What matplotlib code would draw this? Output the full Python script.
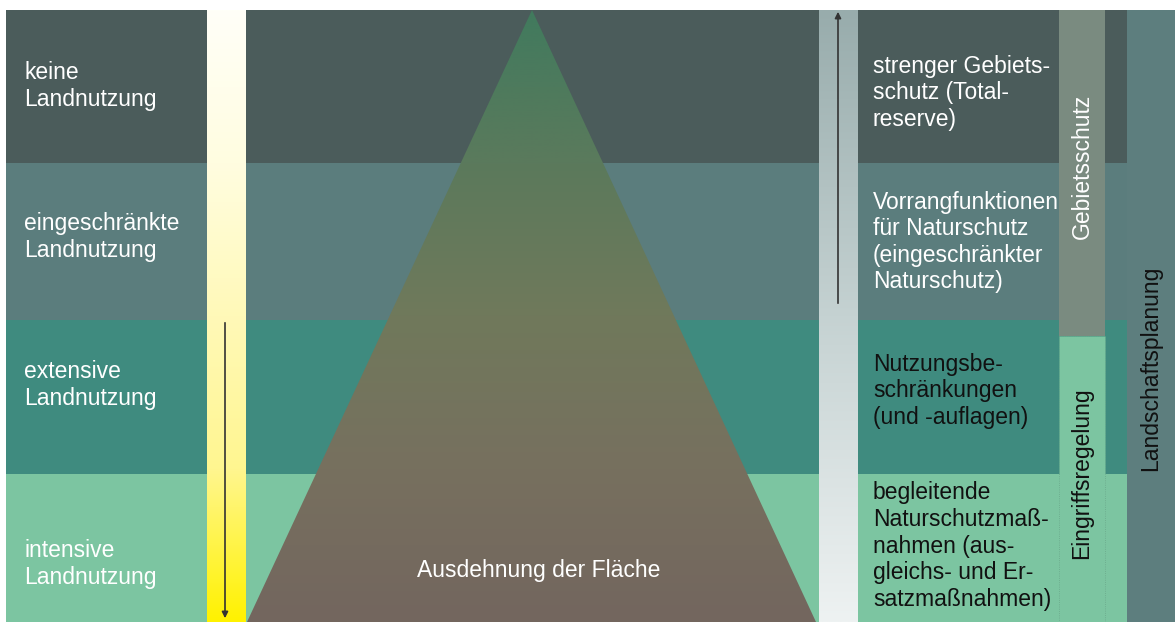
import numpy as np
import matplotlib.pyplot as plt
from matplotlib.patches import Rectangle, Polygon
from matplotlib.colors import LinearSegmentedColormap

plt.rcParams['font.family'] = ['Liberation Sans', 'DejaVu Sans']

# Stufen der Landnutzung (oben -> unten)
nutzung = ["keine\nLandnutzung", "eingeschränkte\nLandnutzung",
           "extensive\nLandnutzung", "intensive\nLandnutzung"]
schutz = ["strenger Gebiets-\nschutz (Total-\nreserve)",
          "Vorrangfunktionen\nfür Naturschutz\n(eingeschränkter\nNaturschutz)",
          "Nutzungsbe-\nschränkungen\n(und -auflagen)",
          "begleitende\nNaturschutzmaß-\nnahmen (aus-\ngleichs- und Er-\nsatzmaßnahmen)"]
band_farben = ["#4b5c5b", "#5b7d7d", "#3f8b7f", "#7cc5a1"]
text_farben = ["white", "white", "#111111", "#111111"]
instrumente = ["Gebietsschutz", "Eingriffsregelung"]
planung = "Landschaftsplanung"
flaeche = "Ausdehnung der Fläche"

W, H = 1175, 622
top = 10
grenzen = [10, 163, 320, 474, 622]
y_links = [86, 237, 385, 564]
y_rechts = [93, 242, 391, 546]
fs = 16.5

fig = plt.figure(figsize=(W / 100, H / 100), dpi=100)
ax = fig.add_axes([0, 0, 1, 1])
ax.set_xlim(0, W)
ax.set_ylim(H, 0)
ax.axis('off')

# Hintergrundbänder
for i, c in enumerate(band_farben):
    ax.add_patch(Rectangle((6, grenzen[i]), 1127 - 6, grenzen[i + 1] - grenzen[i],
                           facecolor=c, edgecolor='none', zorder=1))

# gelber Balken links (Verlauf weiß -> gelb)
gelb = LinearSegmentedColormap.from_list('gelb', ["#fffff8", "#fffde0", "#fff9b8", "#fff690", "#fff200"])
grad = np.linspace(0, 1, 256).reshape(-1, 1)
ax.imshow(grad, cmap=gelb, extent=(207, 246, H, top), aspect='auto', zorder=2)
ax.annotate('', xy=(225, 621), xytext=(225, 320),
            arrowprops=dict(arrowstyle='-|>', color='#333333', lw=1.2, mutation_scale=9), zorder=5)

# heller Balken rechts (Verlauf grau -> weiß)
grau = LinearSegmentedColormap.from_list('grau', ["#98acac", "#c5d2d2", "#eef2f2"])
ax.imshow(grad, cmap=grau, extent=(819, 858, H, top), aspect='auto', zorder=2)
ax.annotate('', xy=(838, 9), xytext=(838, 306),
            arrowprops=dict(arrowstyle='-|>', color='#333333', lw=1.2, mutation_scale=9), zorder=5)

# Pyramide mit Farbverlauf
tri = Polygon([(532, top), (247, H), (816, H)], closed=True, facecolor='none', edgecolor='none')
ax.add_patch(tri)
pyr = LinearSegmentedColormap.from_list('pyr', ["#417a5e", "#5b7a5c", "#70795b", "#77705f", "#73665e"])
im = ax.imshow(grad, cmap=pyr, extent=(247, 816, H, top), aspect='auto', zorder=3)
im.set_clip_path(tri)
ax.text(539, 570, flaeche, color='white', fontsize=fs, ha='center', va='center', zorder=6)

# Texte links und rechts
for i in range(4):
    ax.text(24, y_links[i], nutzung[i], color='white', fontsize=fs,
            ha='left', va='center', linespacing=1.2, zorder=6)
    ax.text(873, y_rechts[i], schutz[i], color=text_farben[i], fontsize=fs,
            ha='left', va='center', linespacing=1.2, zorder=6)

# Instrumente (senkrechte Balken)
ax.add_patch(Rectangle((1059, top), 46, 336 - top, facecolor='#7a8b80', edgecolor='none', zorder=4))
ax.add_patch(Rectangle((1059, 336), 46, H - 336, facecolor='#7cc5a1', edgecolor='#6aa88a',
                       lw=0.6, ls=':', zorder=4))
ax.add_patch(Rectangle((1127, top), W - 1127, H - top, facecolor='#5d7e7e', edgecolor='none', zorder=4))
ax.text(1082, 166, instrumente[0], color='white', fontsize=fs, rotation=90,
        ha='center', va='center', zorder=6)
ax.text(1082, 473, instrumente[1], color='#111111', fontsize=fs, rotation=90,
        ha='center', va='center', zorder=6)
ax.text(1151, 368, planung, color='#111111', fontsize=fs, rotation=90,
        ha='center', va='center', zorder=6)

fig.savefig('out.png', dpi=100, facecolor='white')
